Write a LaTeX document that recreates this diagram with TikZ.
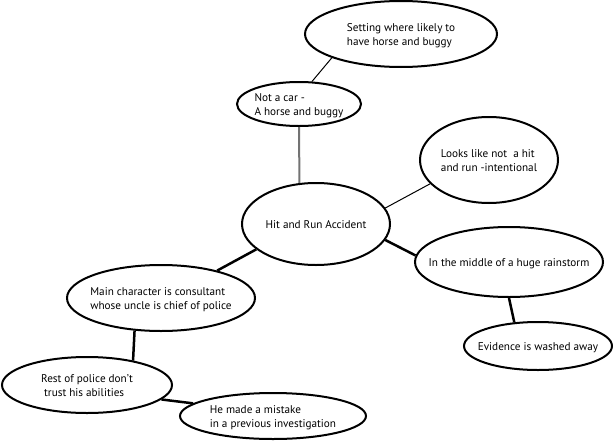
\documentclass[tikz,border=0pt]{standalone}
\usepackage{fontspec}
\setsansfont{PT Sans}
\usetikzlibrary{shapes.geometric}

\newcommand{\ovaltext}[1]{\makebox[0pt]{\raisebox{-0.5\height}[0pt][0pt]{\begin{tabular}[b]{@{}l@{}}#1\end{tabular}}}}

\begin{document}
\begin{tikzpicture}[x=1pt,y=-1pt]
\tikzset{
  mapnode/.style={ellipse,draw=black,line width=2pt,inner sep=0pt,font=\sffamily\fontsize{11.2}{14}\selectfont},
  mapedge/.style={draw=black,line width=2.5pt},
  thinedge/.style={draw=black,line width=1pt},
  greyedge/.style={draw=black!55,line width=2pt}
}
\useasboundingbox (0,0) rectangle (613,442);
\node[mapnode,minimum width=192pt,minimum height=66pt] (n_setting) at (401,34) {\ovaltext{Setting where likely to\\have horse and buggy}};
\node[mapnode,minimum width=124pt,minimum height=44pt] (n_car) at (299,104) {\ovaltext{Not a car -\\A horse and buggy}};
\node[mapnode,minimum width=148pt,minimum height=82pt] (n_hit) at (316,224) {\ovaltext{Hit and Run Accident}};
\node[mapnode,minimum width=138pt,minimum height=86pt] (n_looks) at (489,160) {\ovaltext{Looks like not\ \ a hit\\and run -intentional}};
\node[mapnode,minimum width=188pt,minimum height=70pt] (n_rain) at (509,262) {\ovaltext{In the middle of a huge rainstorm}};
\node[mapnode,minimum width=148pt,minimum height=48pt] (n_evidence) at (538,346) {\ovaltext{Evidence is washed away}};
\node[mapnode,minimum width=188pt,minimum height=66pt] (n_main) at (161,298) {\ovaltext{Main character is consultant\\whose uncle is chief of police}};
\node[mapnode,minimum width=170pt,minimum height=56pt] (n_rest) at (87,385) {\ovaltext{Rest of police don't\\\ trust his abilities}};
\node[mapnode,minimum width=186pt,minimum height=46pt] (n_mistake) at (273,416) {\ovaltext{He made a mistake\\in a previous investigation}};
\draw[thinedge] (n_setting.199) -- (n_car.60);
\draw[greyedge] (n_car.south) -- (n_hit.112);
\draw[thinedge] (n_hit.13) -- (n_looks.202);
\draw[mapedge] (n_hit.347) -- (n_rain.176);
\draw[mapedge] (n_rain.south) -- (n_evidence.135);
\draw[mapedge] (n_hit.203) -- (n_main.26);
\draw[mapedge] (n_main.231) -- (n_rest.28);
\draw[mapedge] (n_rest.349) -- (n_mistake.171);
\end{tikzpicture}
\end{document}
